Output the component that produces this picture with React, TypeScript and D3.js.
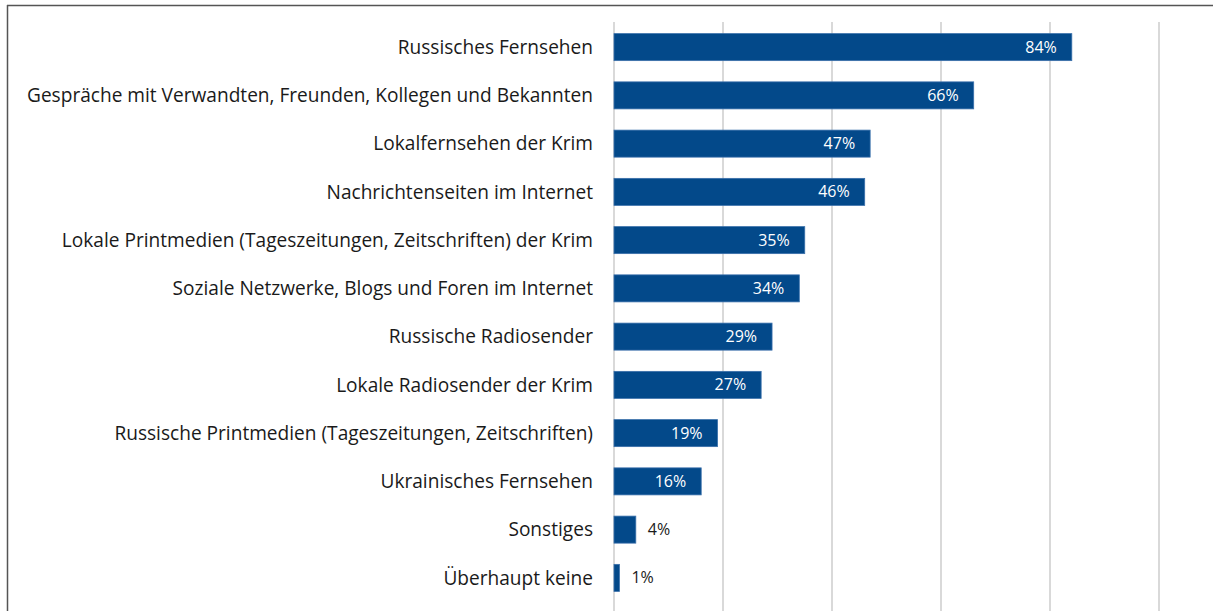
import React from "react";
import * as d3 from "d3";

const categories = [
  "Russisches Fernsehen",
  "Gespräche mit Verwandten, Freunden, Kollegen und Bekannten",
  "Lokalfernsehen der Krim",
  "Nachrichtenseiten im Internet",
  "Lokale Printmedien (Tageszeitungen, Zeitschriften) der Krim",
  "Soziale Netzwerke, Blogs und Foren im Internet",
  "Russische Radiosender",
  "Lokale Radiosender der Krim",
  "Russische Printmedien (Tageszeitungen, Zeitschriften)",
  "Ukrainisches Fernsehen",
  "Sonstiges",
  "Überhaupt keine",
];
const values = [84, 66, 47, 46, 35, 34, 29, 27, 19, 16, 4, 1];
const gridTicks = [0, 20, 40, 60, 80, 100];

const W = 1213;
const H = 611;
const FONT = "'Open Sans', 'Noto Sans', sans-serif";

export default function App() {
  const x = d3.scaleLinear().domain([0, 100]).range([614, 1159]);
  const y = d3
    .scaleBand<string>()
    .domain(categories)
    .range([23, 602])
    .paddingInner(0.44)
    .paddingOuter(0.22);

  return (
    <svg
      width={W}
      height={H}
      style={{ position: "absolute", left: 0, top: 0, background: "#fff" }}
    >
      {/* frame */}
      <line x1={7} x2={W} y1={5.5} y2={5.5} stroke="#555" strokeWidth={1.5} />
      <line x1={7.5} x2={7.5} y1={5} y2={H} stroke="#555" strokeWidth={1.5} />

      {gridTicks.map((t) => (
        <line
          key={t}
          x1={x(t)}
          x2={x(t)}
          y1={22}
          y2={H}
          stroke="#d9d9d9"
          strokeWidth={2}
        />
      ))}

      {categories.map((c, i) => {
        const v = values[i];
        const y0 = y(c)!;
        const bh = y.bandwidth();
        const cy = y0 + bh / 2;
        const inside = v >= 10;
        return (
          <g key={c}>
            <rect
              x={x(0)}
              y={y0}
              width={x(v) - x(0)}
              height={bh}
              fill="#03498a"
              stroke="#3a70ab"
              strokeWidth={0.8}
            />
            <text
              x={593}
              y={cy}
              dy="0.35em"
              textAnchor="end"
              fontFamily={FONT}
              fontSize={19.1}
              fill="#1a1a1a"
            >
              {c}
            </text>
            <text
              x={inside ? x(v) - 15 : x(v) + 12}
              y={cy}
              dy="0.35em"
              textAnchor={inside ? "end" : "start"}
              fontFamily={FONT}
              fontSize={16}
              fill={inside ? "#fff" : "#1a1a1a"}
            >
              {v}%
            </text>
          </g>
        );
      })}
    </svg>
  );
}
